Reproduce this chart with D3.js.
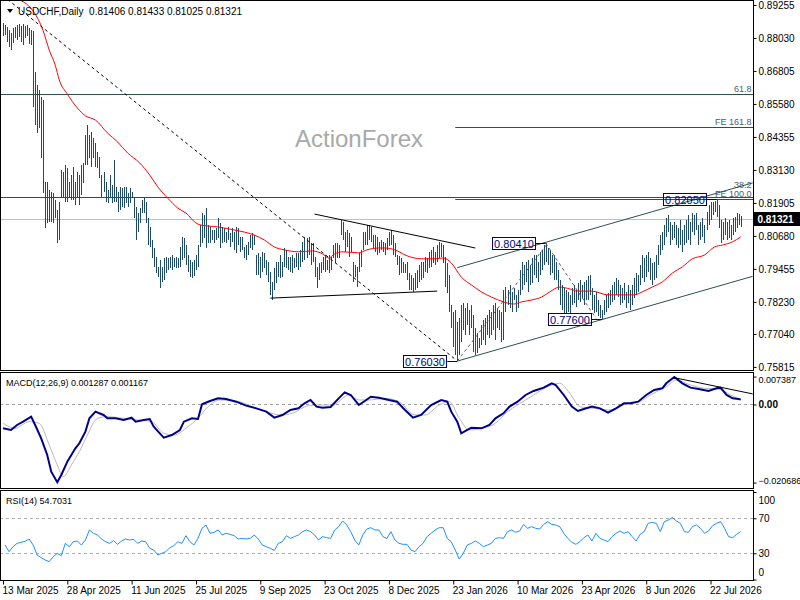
<!DOCTYPE html>
<html>
<head>
<meta charset="utf-8">
<script src="https://cdn.jsdelivr.net/npm/d3@7"></script>
<style>
  body { margin: 0; background: #fff; }
  text { font-family: "Liberation Sans", Arial, sans-serif; }
</style>
</head>
<body>
<svg id="chart" width="800" height="600"></svg>
<script>
// USDCHF daily bars (368 sessions from 13 Mar 2025)
var barHigh = [
  0.8859,0.8851,0.8844,0.8833,0.8822,0.8840,0.8844,0.8851,0.8855,0.8848, // 0
  0.8855,0.8848,0.8851,0.8840,0.8833,0.8829,0.8677,0.8628,0.8610,0.8584, // 10
  0.8573,0.8269,0.8269,0.8238,0.8231,0.8227,0.8201,0.8164,0.8194,0.8313, // 20
  0.8306,0.8331,0.8320,0.8269,0.8294,0.8324,0.8269,0.8306,0.8294,0.8331, // 30
  0.8339,0.8442,0.8479,0.8442,0.8454,0.8431,0.8413,0.8380,0.8361,0.8294, // 40
  0.8306,0.8269,0.8238,0.8294,0.8257,0.8350,0.8250,0.8231,0.8250,0.8246, // 50
  0.8250,0.8250,0.8227,0.8246,0.8231,0.8208,0.8175,0.8153,0.8171,0.8201, // 60
  0.8212,0.8194,0.8134,0.8101,0.8053,0.8023,0.7990,0.7953,0.7979,0.7953, // 70
  0.7986,0.7990,0.7986,0.7990,0.7997,0.7986,0.7990,0.7986,0.8027,0.8064, // 80
  0.8060,0.8034,0.7997,0.7979,0.7972,0.7979,0.7997,0.8034,0.8109,0.8153, // 90
  0.8146,0.8171,0.8109,0.8101,0.8090,0.8090,0.8097,0.8134,0.8116,0.8101, // 100
  0.8097,0.8083,0.8101,0.8079,0.8097,0.8083,0.8101,0.8097,0.8064,0.8064, // 110
  0.8027,0.8034,0.8046,0.8071,0.8079,0.8071,0.7997,0.8005,0.7990,0.8009, // 120
  0.8005,0.7979,0.7972,0.7934,0.7897,0.7949,0.7972,0.7972,0.7997,0.7972, // 130
  0.8023,0.8016,0.7990,0.7990,0.7997,0.7986,0.8005,0.8005,0.8016,0.8046, // 140
  0.8064,0.8060,0.8064,0.8042,0.8042,0.7990,0.7953,0.7968,0.7972,0.7990, // 150
  0.7997,0.7979,0.7997,0.7990,0.8034,0.8042,0.8042,0.8034,0.8127,0.8120, // 160
  0.8083,0.8090,0.8079,0.8064,0.7972,0.7960,0.7953,0.8005,0.8016,0.8083, // 170
  0.8083,0.8109,0.8109,0.8101,0.8071,0.8071,0.8064,0.8046,0.8053,0.8046, // 180
  0.8042,0.8060,0.8083,0.8090,0.8071,0.8042,0.7997,0.7994,0.7986,0.7972, // 190
  0.7964,0.7972,0.7930,0.7923,0.7911,0.7930,0.7941,0.7960,0.7972,0.7972, // 200
  0.7990,0.7986,0.8009,0.8016,0.8027,0.8009,0.8034,0.8046,0.8042,0.8034, // 210
  0.7990,0.7968,0.7923,0.7811,0.7786,0.7793,0.7748,0.7763,0.7811,0.7819, // 220
  0.7800,0.7819,0.7793,0.7811,0.7774,0.7726,0.7708,0.7689,0.7737,0.7756, // 230
  0.7763,0.7774,0.7793,0.7786,0.7811,0.7819,0.7800,0.7793,0.7786,0.7867, // 240
  0.7878,0.7867,0.7886,0.7860,0.7874,0.7849,0.7867,0.7941,0.7972,0.7960, // 250
  0.7972,0.7979,0.7960,0.7986,0.7997,0.7997,0.7972,0.8009,0.8016,0.8034, // 260
  0.8041,0.8023,0.8016,0.7997,0.7997,0.7972,0.7941,0.7904,0.7886,0.7874, // 270
  0.7867,0.7860,0.7849,0.7874,0.7886,0.7867,0.7893,0.7904,0.7886,0.7897, // 280
  0.7904,0.7919,0.7923,0.7874,0.7849,0.7860,0.7830,0.7811,0.7793,0.7830, // 290
  0.7849,0.7856,0.7867,0.7886,0.7897,0.7911,0.7904,0.7886,0.7874,0.7893, // 300
  0.7860,0.7886,0.7867,0.7886,0.7911,0.7930,0.7923,0.7960,0.7997,0.7986, // 310
  0.7997,0.8009,0.7986,0.7968,0.7972,0.7997,0.8034,0.8071,0.8083,0.8109, // 320
  0.8134,0.8146,0.8120,0.8109,0.8120,0.8109,0.8097,0.8127,0.8090,0.8109, // 330
  0.8127,0.8146,0.8120,0.8153,0.8146,0.8153,0.8109,0.8120,0.8134,0.8109, // 340
  0.8157,0.8182,0.8194,0.8194,0.8199,0.8205,0.8182,0.8127,0.8120,0.8134, // 350
  0.8120,0.8127,0.8109,0.8134,0.8138,0.8153,0.8149,0.81433               // 360
];
var barLow = [
  0.8811,0.8814,0.8788,0.8770,0.8758,0.8784,0.8803,0.8795,0.8807,0.8788, // 0
  0.8777,0.8803,0.8811,0.8780,0.8777,0.8547,0.8479,0.8450,0.8468,0.8357, // 10
  0.8227,0.8097,0.8116,0.8120,0.8120,0.8116,0.8134,0.8042,0.8053,0.8208, // 20
  0.8212,0.8194,0.8194,0.8212,0.8201,0.8201,0.8182,0.8212,0.8182,0.8219, // 30
  0.8265,0.8331,0.8331,0.8357,0.8324,0.8357,0.8324,0.8320,0.8283,0.8212, // 40
  0.8231,0.8194,0.8190,0.8212,0.8190,0.8194,0.8194,0.8157,0.8164,0.8175, // 50
  0.8171,0.8190,0.8175,0.8190,0.8208,0.8134,0.8053,0.8083,0.8116,0.8153, // 60
  0.8153,0.8116,0.8034,0.8027,0.7986,0.7953,0.7930,0.7915,0.7874,0.7897, // 70
  0.7904,0.7930,0.7941,0.7949,0.7941,0.7953,0.7949,0.7949,0.7953,0.7979, // 80
  0.7986,0.7960,0.7934,0.7915,0.7911,0.7919,0.7941,0.7953,0.8027,0.8042, // 90
  0.8060,0.8023,0.8042,0.8042,0.8053,0.8042,0.8053,0.8060,0.8023,0.8042, // 100
  0.8046,0.8042,0.8053,0.8027,0.8046,0.8016,0.8005,0.8034,0.8009,0.8016, // 110
  0.7986,0.7979,0.7997,0.8023,0.8016,0.8034,0.7923,0.7923,0.7911,0.7934, // 120
  0.7949,0.7923,0.7897,0.7849,0.7830,0.7867,0.7893,0.7915,0.7911,0.7915, // 130
  0.7953,0.7949,0.7941,0.7934,0.7930,0.7949,0.7953,0.7941,0.7953,0.7972, // 140
  0.7979,0.7986,0.7997,0.7960,0.7972,0.7915,0.7874,0.7904,0.7930,0.7941, // 150
  0.7934,0.7941,0.7930,0.7941,0.7986,0.7968,0.7986,0.7986,0.8071,0.8053, // 160
  0.8009,0.8027,0.7990,0.8009,0.7897,0.7915,0.7878,0.7934,0.7953,0.8016, // 170
  0.8034,0.8034,0.8053,0.8046,0.8023,0.8009,0.7997,0.8005,0.8016,0.8009, // 180
  0.7997,0.8016,0.8031,0.8034,0.7997,0.7990,0.7960,0.7923,0.7930,0.7930, // 190
  0.7930,0.7904,0.7867,0.7867,0.7860,0.7867,0.7874,0.7897,0.7904,0.7911, // 200
  0.7934,0.7930,0.7949,0.7953,0.7968,0.7960,0.7972,0.7986,0.7990,0.7968, // 210
  0.7878,0.7856,0.7786,0.7726,0.7655,0.7626,0.7603,0.7626,0.7674,0.7719, // 220
  0.7700,0.7737,0.7700,0.7726,0.7637,0.7626,0.7633,0.7652,0.7663,0.7681, // 230
  0.7663,0.7700,0.7689,0.7700,0.7719,0.7681,0.7726,0.7719,0.7674,0.7681, // 240
  0.7786,0.7811,0.7800,0.7786,0.7830,0.7786,0.7800,0.7849,0.7867,0.7886, // 250
  0.7897,0.7860,0.7886,0.7893,0.7923,0.7911,0.7897,0.7923,0.7941,0.7960, // 260
  0.7972,0.7960,0.7923,0.7930,0.7904,0.7904,0.7867,0.7811,0.7793,0.7782, // 270
  0.7778,0.7786,0.7782,0.7811,0.7819,0.7804,0.7830,0.7823,0.7837,0.7811, // 280
  0.7830,0.7830,0.7849,0.7793,0.7782,0.7786,0.7771,0.7763,0.7760,0.7774, // 290
  0.7786,0.7800,0.7811,0.7823,0.7830,0.7849,0.7841,0.7811,0.7819,0.7830, // 300
  0.7800,0.7819,0.7793,0.7811,0.7837,0.7849,0.7860,0.7886,0.7911,0.7897, // 310
  0.7915,0.7934,0.7904,0.7886,0.7904,0.7911,0.7960,0.7997,0.8016,0.8034, // 320
  0.8064,0.8083,0.8034,0.8053,0.8060,0.8034,0.8023,0.8034,0.8009,0.8034, // 330
  0.8042,0.8053,0.8034,0.8083,0.8071,0.8090,0.8034,0.8053,0.8064,0.8042, // 340
  0.8090,0.8109,0.8127,0.8146,0.8157,0.8138,0.8097,0.8042,0.8053,0.8071, // 350
  0.8053,0.8060,0.8053,0.8071,0.8083,0.8097,0.8109,0.81025               // 360
];
var lastQuote = [0.81406, 0.81433, 0.81025, 0.81321]; // O H L C

// 50-day moving average [bar, value]
var maLine = [[6,0.8950],[15,0.8903],[20,0.8829],[23,0.8758],[26,0.8702],[28,0.8647],[32,0.8595],
  [37,0.8543],[41,0.8514],[46,0.8498],[52,0.8450],[57,0.8417],[62,0.8376],[68,0.8339],[73,0.8294],
  [77,0.8250],[82,0.8208],[87,0.8171],[91,0.8153],[96,0.8116],[98,0.8109],[107,0.8101],[115,0.8090],
  [125,0.8071],[130,0.8053],[135,0.8027],[140,0.8016],[147,0.8009],[154,0.8012],[159,0.8001],
  [162,0.7986],[165,0.8001],[169,0.8009],[177,0.8005],[181,0.8016],[187,0.8023],[190,0.8023],
  [195,0.8016],[201,0.7994],[208,0.7983],[215,0.7983],[219,0.7986],[223,0.7968],[228,0.7915],
  [233,0.7886],[238,0.7860],[243,0.7841],[249,0.7823],[254,0.7815],[258,0.7823],[263,0.7830],
  [268,0.7841],[272,0.7860],[277,0.7878],[282,0.7871],[286,0.7863],[293,0.7863],[301,0.7849],
  [308,0.7849],[314,0.7849],[318,0.7860],[323,0.7878],[328,0.7897],[333,0.7930],[338,0.7953],
  [343,0.7983],[349,0.7997],[354,0.8027],[358,0.8034],[363,0.8046],[367,0.8064]];

// MACD(12,26,9) main and signal [bar, value]
var macdMain = [[0,-0.00631],[4,-0.00675],[7,-0.00543],[10,-0.00455],[14,-0.00322],[16,-0.00543],
  [19,-0.00896],[22,-0.01337],[24,-0.01779],[27,-0.02061],[29,-0.01867],[32,-0.01514],[36,-0.01161],
  [38,-0.01028],[41,-0.00719],[43,-0.00366],[46,-0.0019],[50,-0.00278],[52,-0.00366],[56,-0.00366],
  [60,-0.0041],[64,-0.00349],[66,-0.00455],[70,-0.0041],[73,-0.00384],[75,-0.00587],[78,-0.00764],
  [80,-0.00878],[84,-0.00808],[88,-0.00675],[90,-0.00455],[94,-0.00366],[97,-0.00384],[99,0.00004],
  [103,0.00093],[107,0.00163],[111,0.00146],[116,0.00075],[121,-0.00031],[126,-0.00102],[131,-0.0019],
  [135,-0.00349],[139,-0.00278],[143,-0.00146],[147,-0.00102],[150,0.00031],[153,0.00119],
  [156,-0.00057],[159,-0.00084],[163,-0.00066],[167,0.00163],[170,0.00322],[173,0.00252],
  [177,-0.00013],[180,0.00093],[183,0.00207],[187,0.00181],[192,0.00119],[196,0.00075],
  [200,-0.00146],[204,-0.00349],[208,-0.00278],[213,-0.00013],[218,0.00119],[221,0.00075],
  [223,-0.0019],[226,-0.00455],[228,-0.00764],[231,-0.00675],[233,-0.00614],[238,-0.00631],
  [242,-0.00543],[245,-0.00366],[249,-0.00234],[252,-0.00057],[256,0.00075],[260,0.00252],
  [264,0.00358],[269,0.00446],[273,0.00561],[275,0.00516],[279,0.00252],[283,-0.00057],
  [286,-0.00172],[289,-0.00119],[293,-0.00057],[297,-0.00102],[301,-0.00216],[305,-0.00102],
  [309,0.00031],[312,0.00031],[316,0.00075],[320,0.00252],[324,0.00384],[328,0.00428],[330,0.00561],
  [334,0.00728],[338,0.00561],[342,0.00446],[346,0.0041],[351,0.00358],[355,0.00428],[357,0.00446],
  [360,0.00252],[363,0.00163],[366,0.00146],[367,0.001287]];
var macdSignal = [[0,-0.00499],[6,-0.00631],[13,-0.00455],[18,-0.00499],[23,-0.01073],[27,-0.01602],
  [30,-0.01911],[34,-0.01602],[38,-0.01249],[42,-0.00808],[47,-0.00366],[52,-0.00322],[60,-0.00366],
  [67,-0.0041],[74,-0.00455],[80,-0.00764],[85,-0.00808],[92,-0.00587],[97,-0.00366],[102,-0.00057],
  [108,0.00119],[116,0.00093],[124,-0.00057],[131,-0.0019],[138,-0.00278],[144,-0.00234],
  [152,-0.00031],[158,-0.00013],[164,-0.00013],[172,0.00252],[177,0.00119],[182,0.00119],
  [190,0.00163],[197,0.00075],[205,-0.00278],[210,-0.00278],[217,-0.00013],[222,0.00075],
  [227,-0.00366],[232,-0.00675],[238,-0.00631],[245,-0.00499],[251,-0.0019],[256,-0.00013],
  [264,0.00252],[271,0.00472],[277,0.00561],[282,0.00296],[287,-0.00057],[294,-0.00102],
  [302,-0.00146],[308,-0.00013],[316,0.00057],[322,0.00252],[330,0.00472],[335,0.00649],
  [342,0.00516],[349,0.00428],[356,0.0041],[362,0.00252],[367,0.001167]];

// RSI(14), one reading every second bar (bars 1, 3, 5 ... 367)
var rsiVals = [
  39.4,31.8,37.5,41.3,42.5,43.6,46.3,39.4,28.0,24.9,
  22.3,20.4,26.1,29.9,27.2,41.3,37.5,43.2,44.0,39.4,
  45.1,56.6,52.8,50.9,46.3,43.2,41.3,44.4,40.2,44.0,
  46.3,45.1,45.9,41.3,44.0,43.2,35.6,33.7,28.0,29.9,
  31.8,36.4,38.7,43.2,41.3,50.1,43.2,39.4,47.0,58.5,
  62.3,52.8,53.9,56.6,50.9,52.8,51.6,50.1,46.3,47.0,
  46.3,47.0,50.9,46.3,39.4,37.5,35.6,33.3,41.3,43.2,
  50.1,47.0,49.0,50.9,54.7,56.6,54.7,50.9,45.1,49.0,
  47.8,47.0,56.6,60.4,66.9,62.3,54.7,45.1,39.4,50.9,
  57.7,59.2,56.6,56.6,49.0,47.0,54.7,45.1,41.3,40.2,
  40.2,33.7,31.8,37.5,41.3,49.0,52.8,56.6,59.2,59.2,
  47.0,43.2,33.7,23.4,29.9,39.4,41.3,44.0,41.3,37.5,
  39.4,41.3,47.0,47.8,47.0,54.7,56.6,53.9,55.4,63.0,
  58.5,60.4,58.5,57.7,63.0,66.1,63.0,62.3,60.4,52.8,
  47.0,42.5,40.2,43.2,47.8,50.9,44.0,52.8,47.0,45.1,
  43.2,49.0,52.8,55.4,52.8,54.7,49.0,44.0,51.6,54.7,
  64.2,65.3,64.2,54.7,66.1,68.0,70.7,66.9,64.2,54.7,
  53.9,60.4,62.3,58.5,52.8,55.4,61.5,64.2,66.1,58.5,
  49.0,47.8,51.6,54.7031
];

var priceTicks = [0.89255,0.88030,0.86805,0.85580,0.84355,0.83130,0.81905,0.80680,0.79455,0.78230,0.77040,0.75815];
var dateTickBars = [0,32,64,96,128,160,192,224,256,288,320,352];
var dateTickLabels = ["13 Mar 2025","28 Apr 2025","11 Jun 2025","25 Jul 2025","9 Sep 2025","23 Oct 2025",
  "8 Dec 2025","23 Jan 2026","10 Mar 2026","23 Apr 2026","8 Jun 2026","22 Jul 2026"];

// fibonacci / expansion levels
var fibLevels = [0.8594, 0.8471, 0.8212, 0.8204];
var fibNames = ["61.8", "FE 161.8", "38.2", "FE 100.0"];
var fibFromBar = [-2, 225, -2, 225];

// drawn trend lines [[bar, price], [bar, price]]
var dashedTrend = [[[0,0.8960],[225,0.7610]]];
var triangleLines = [[[155,0.8149],[235,0.8023]], [[133,0.7837],[216,0.7863]]];
var channelLines = [[[226,0.7950],[373,0.8265]], [[226,0.7603],[373,0.7918]]];
var fibDiagonals = [[[226,0.7603],[271,0.8041]], [[270,0.8041],[295,0.7762]]];
var macdTrend = [[334,0.0071],[373,0.0028]];

// swing labels
var markBars = [270, 226, 298, 355];
var markVals = [0.8041, 0.7603, 0.7760, 0.8205];
var markText = ["0.80410", "0.76030", "0.77600", "0.82050"];

var svg = d3.select("#chart");
var right = 753.5;
var panes = { price: [0.5, 370.5], macd: [372.5, 488.5], rsi: [490.5, 580.5] };

var x = d3.scaleLinear().domain([0, 367]).range([3, 3 + 367 * 2.01]);
var yP = d3.scaleLinear().domain([0.7570, 0.8944]).range([370, 0]);
var yM = d3.scaleLinear().domain([-0.020686, 0.007387]).range([482.6, 376.6]);
var yR = d3.scaleLinear().domain([0, 100]).range([579.5, 492]);

var defs = svg.append("defs");
Object.keys(panes).forEach(function (k) {
  defs.append("clipPath").attr("id", "clip-" + k).append("rect")
    .attr("x", 1).attr("y", panes[k][0]).attr("width", right - 1).attr("height", panes[k][1] - panes[k][0]);
});

function seg(g, pts, y) {
  return g.append("line")
    .attr("x1", x(pts[0][0])).attr("y1", y(pts[0][1]))
    .attr("x2", x(pts[1][0])).attr("y2", y(pts[1][1]));
}

// ---------- price pane ----------
var gP = svg.append("g").attr("clip-path", "url(#clip-price)");

gP.append("text").attr("x", 295).attr("y", 147).attr("font-size", 24)
  .attr("fill", "#a9a9a9").text("ActionForex");

gP.append("line").attr("x1", 0).attr("x2", right)
  .attr("y1", Math.round(yP(lastQuote[3])) + 0.5).attr("y2", Math.round(yP(lastQuote[3])) + 0.5)
  .attr("stroke", "#c0c0c0");

fibLevels.forEach(function (v, i) {
  var yy = Math.round(yP(v)) + 0.5;
  gP.append("line").attr("x1", x(fibFromBar[i])).attr("x2", right).attr("y1", yy).attr("y2", yy)
    .attr("stroke", "#2f4f4f");
  gP.append("text").attr("x", right - 2).attr("y", yy - (i === 2 ? 10 : 3))
    .attr("text-anchor", "end").attr("font-size", 9).attr("fill", "#4a6170").text(fibNames[i]);
});

gP.selectAll("line.bar").data(barHigh).enter().append("line")
  .attr("class", "bar")
  .attr("x1", function (d, i) { return Math.round(x(i)) + 0.5; })
  .attr("x2", function (d, i) { return Math.round(x(i)) + 0.5; })
  .attr("y1", function (d) { return yP(d); })
  .attr("y2", function (d, i) { return yP(barLow[i]); })
  .attr("stroke", "#1d4b68").attr("stroke-width", 1).attr("shape-rendering", "crispEdges");

gP.append("path").datum(maLine)
  .attr("d", d3.line().x(function (d) { return x(d[0]); }).y(function (d) { return yP(d[1]); })
    .curve(d3.curveMonotoneX))
  .attr("fill", "none").attr("stroke", "#ff0000").attr("stroke-width", 1);

dashedTrend.forEach(function (p) {
  seg(gP, p, yP).attr("stroke", "#000").attr("stroke-dasharray", "3,3");
});
triangleLines.forEach(function (p) { seg(gP, p, yP).attr("stroke", "#000"); });
channelLines.forEach(function (p) { seg(gP, p, yP).attr("stroke", "#2f4f4f"); });
fibDiagonals.forEach(function (p) {
  seg(gP, p, yP).attr("stroke", "#4f5f5f").attr("stroke-dasharray", "3,3");
});

markBars.forEach(function (b, i) {
  var cx = x(b), cy = Math.round(yP(markVals[i]));
  gP.append("line").attr("x1", cx - 10).attr("x2", cx).attr("y1", cy + 0.5).attr("y2", cy + 0.5)
    .attr("stroke", "#000080");
  gP.append("rect").attr("x", Math.round(cx) - 53.5).attr("y", cy - 5.5).attr("width", 43).attr("height", 12)
    .attr("fill", "none").attr("stroke", "#000080");
  gP.append("text").attr("x", Math.round(cx) - 32).attr("y", cy + 4.5).attr("text-anchor", "middle")
    .attr("font-size", 11).attr("fill", "#000080").text(markText[i]);
});

svg.append("path").attr("d", "M7,9L13,9L10,13Z").attr("fill", "#000");
svg.append("text").attr("x", 18).attr("y", 15).attr("font-size", 10).style("white-space", "pre")
  .text("USDCHF,Daily  " + lastQuote.map(d3.format(".5f")).join(" "));

// ---------- MACD pane ----------
var gM = svg.append("g").attr("clip-path", "url(#clip-macd)");
gM.append("line").attr("x1", 0).attr("x2", right)
  .attr("y1", Math.round(yM(0)) + 0.5).attr("y2", Math.round(yM(0)) + 0.5)
  .attr("stroke", "#a0a0a0").attr("stroke-dasharray", "3,3");
var lineM = d3.line().x(function (d) { return x(d[0]); }).y(function (d) { return yM(d[1]); });
gM.append("path").datum(macdSignal).attr("d", lineM.curve(d3.curveMonotoneX))
  .attr("fill", "none").attr("stroke", "#b8b8b8").attr("stroke-width", 1);
gM.append("path").datum(macdMain).attr("d", lineM.curve(d3.curveLinear))
  .attr("fill", "none").attr("stroke", "#00008b").attr("stroke-width", 2);
seg(gM, macdTrend, yM).attr("stroke", "#000");
svg.append("text").attr("x", 6).attr("y", 386).attr("font-size", 9)
  .text("MACD(12,26,9) 0.001287 0.001167");

// ---------- RSI pane ----------
var gR = svg.append("g").attr("clip-path", "url(#clip-rsi)");
[70, 30].forEach(function (lv) {
  gR.append("line").attr("x1", 0).attr("x2", right)
    .attr("y1", Math.round(yR(lv)) + 0.5).attr("y2", Math.round(yR(lv)) + 0.5)
    .attr("stroke", "#b0b0b0").attr("stroke-dasharray", "3,3");
});
gR.append("path").datum(rsiVals)
  .attr("d", d3.line().x(function (d, k) { return x(2 * k + 1); }).y(function (d) { return yR(d); }))
  .attr("fill", "none").attr("stroke", "#1e90ff").attr("stroke-width", 1);
svg.append("text").attr("x", 6).attr("y", 504).attr("font-size", 9).text("RSI(14) 54.7031");

// ---------- frames and axes ----------
Object.keys(panes).forEach(function (k) {
  svg.append("rect").attr("x", 0.5).attr("y", panes[k][0]).attr("width", right - 0.5)
    .attr("height", panes[k][1] - panes[k][0]).attr("fill", "none").attr("stroke", "#000");
});

var font = "Liberation Sans, Arial, sans-serif";
var axP = svg.append("g").attr("transform", "translate(" + right + ",0)")
  .call(d3.axisRight(yP).tickValues(priceTicks).tickFormat(d3.format(".5f")).tickSize(3).tickPadding(2));
var axM = svg.append("g").attr("transform", "translate(" + right + ",0)")
  .call(d3.axisRight(yM).tickValues([0.007387, 0, -0.020686])
    .tickFormat(function (d) { return d === 0 ? "0.00" : d3.format(".6f")(d); }).tickSize(3).tickPadding(2));
var axR = svg.append("g").attr("transform", "translate(" + right + ",0)")
  .call(d3.axisRight(yR).tickValues([100, 70, 30, 0]).tickSize(3).tickPadding(2));
var axX = svg.append("g").attr("transform", "translate(0," + panes.rsi[1] + ")")
  .call(d3.axisBottom(x).tickValues(dateTickBars)
    .tickFormat(function (d, i) { return dateTickLabels[i]; }).tickSize(4).tickPadding(2));

[axP, axM, axR, axX].forEach(function (a) {
  a.select(".domain").remove();
  a.attr("font-family", font).attr("font-size", 10);
});
axX.selectAll("text").attr("text-anchor", "start").attr("dx", -1);
axM.selectAll(".tick text")
  .attr("font-size", function (d) { return d === 0 ? 10 : 9; })
  .attr("font-weight", function (d) { return d === 0 ? "bold" : null; })
  .attr("dy", function (d) { return d > 0 ? "0.6em" : d < 0 ? "0.1em" : "0.32em"; });
axR.selectAll(".tick text").attr("dy", function (d) { return d === 100 ? "1.1em" : d === 0 ? "-0.4em" : "0.32em"; });

// current price tag
var cy = Math.round(yP(lastQuote[3]));
svg.append("rect").attr("x", right + 0.5).attr("y", cy - 7).attr("width", 46).attr("height", 14).attr("fill", "#000");
svg.append("text").attr("x", right + 4).attr("y", cy + 4).attr("font-size", 10).attr("font-weight", "bold")
  .attr("fill", "#fff").text(d3.format(".5f")(lastQuote[3]));
</script>
</body>
</html>
